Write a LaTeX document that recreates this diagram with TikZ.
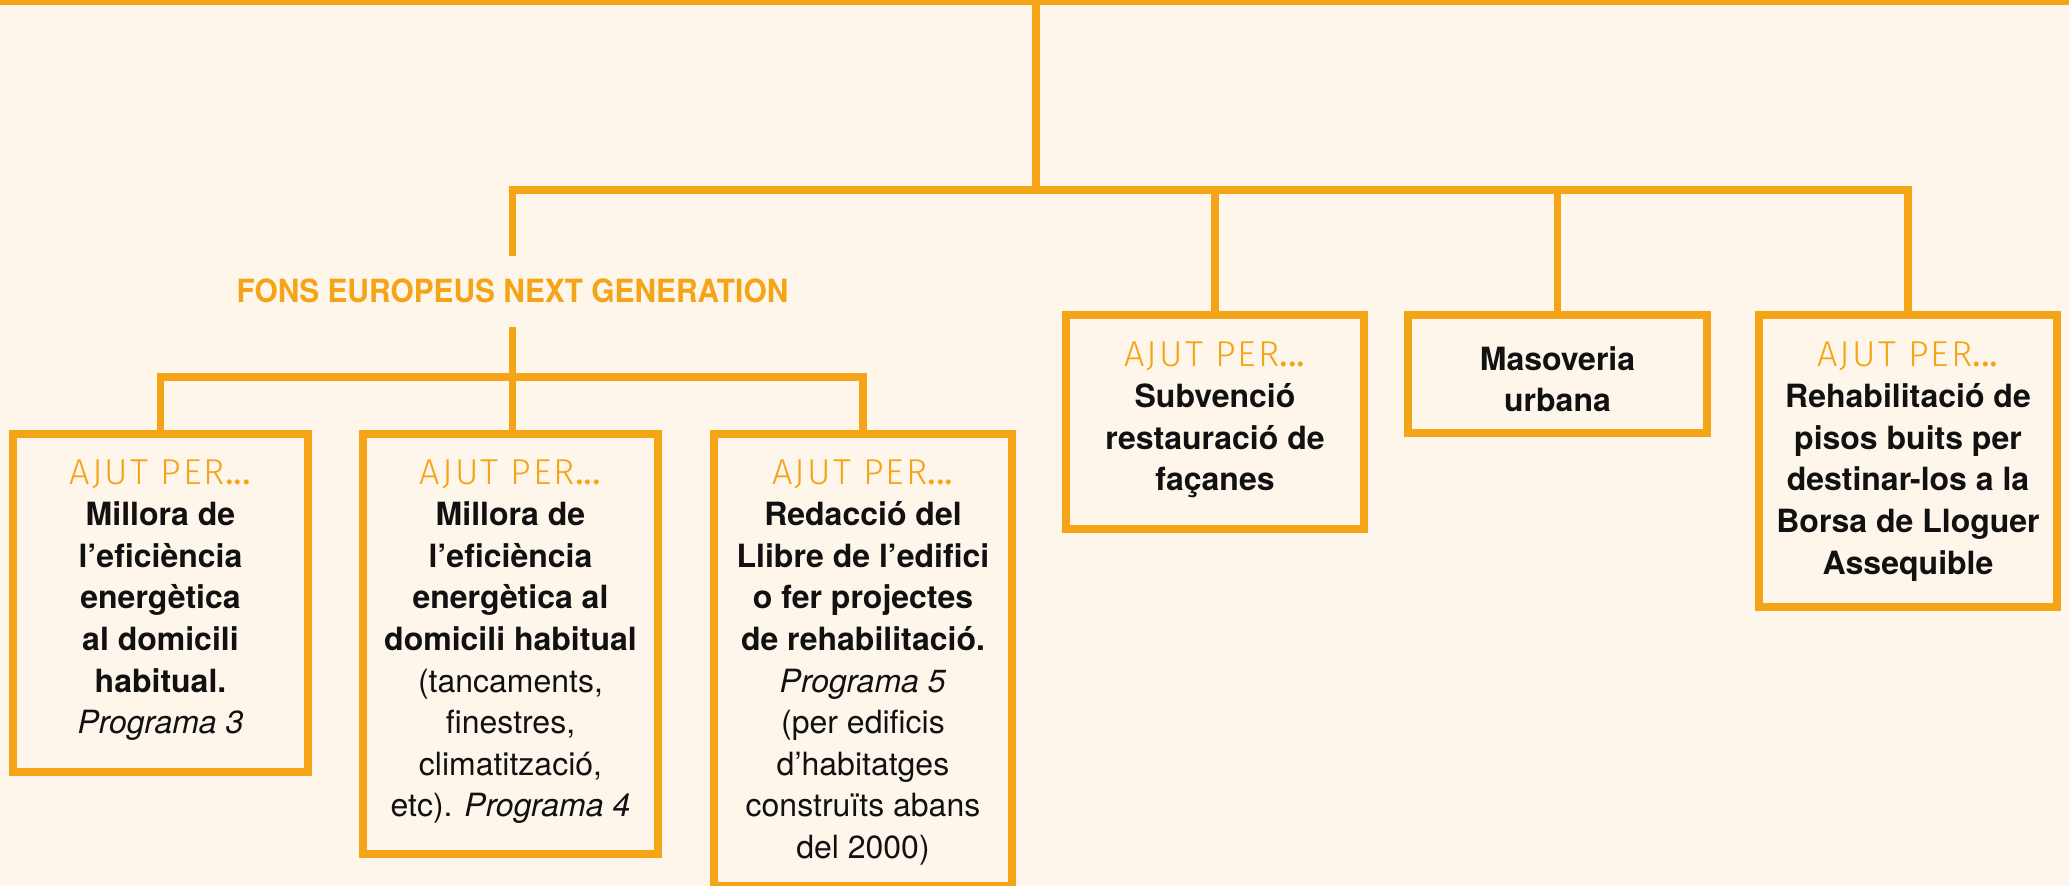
\documentclass[tikz,border=0pt]{standalone}
\usepackage{fontspec}
\usepackage{graphicx}
\setmainfont{TeX Gyre Heros}
\newfontfamily\ajutfont{Fira Sans Light}[LetterSpace=6]
\newfontfamily\dotfont{Fira Sans}
\definecolor{org}{RGB}{245,164,23}
\definecolor{bg}{RGB}{254,246,234}
\definecolor{ink}{RGB}{17,17,17}
\newcommand\ajutper{{\color{org}\ajutfont\fontsize{18}{20.8}\selectfont\rule{0pt}{10pt}AJUT PER{\dotfont...}}}
\begin{document}
\begin{tikzpicture}[x=0.5pt,y=-0.5pt,
  conn/.style={draw=org,line width=3.75pt},
  boxst/.style={draw=org,line width=4pt,inner sep=0pt,rectangle},
  txt/.style={anchor=north,inner sep=0pt,align=center,text=ink,font=\fontsize{16}{20.8}\selectfont},
  fonsst/.style={text=org,font=\bfseries\fontsize{16}{19}\selectfont,inner xsep=0pt,inner ysep=12pt,text height=11.5pt,text depth=0pt}
  ]
\useasboundingbox (0,0) rectangle (2069,886);
\clip (0,0) rectangle (2069,886);
\fill[bg] (0,0) rectangle (2069,886);
\fill[org] (0,0) rectangle (2069,5.5);

% boxes
\node[boxst,minimum width=147.5pt,minimum height=169pt] (box1) at (160.5,603) {};
\node[boxst,minimum width=147.5pt,minimum height=210pt] (box2) at (510.5,644) {};
\node[boxst,minimum width=149pt,minimum height=226pt] (box3) at (863,660) {};
\node[boxst,minimum width=149pt,minimum height=107pt] (box4) at (1215,422) {};
\node[boxst,minimum width=149.5pt,minimum height=59pt] (box5) at (1557.5,374) {};
\node[boxst,minimum width=149pt,minimum height=146pt] (box6) at (1908,461) {};

\node[fonsst] (fons) at (512.5,291.5) {\scalebox{0.934}[1]{FONS EUROPEUS NEXT GENERATION}};

% texts
\node[txt] (t1) at ([yshift=-14.5pt]box1.north) {\ajutper\\ \textbf{Millora de}\\ \textbf{l’eficiència}\\ \textbf{energètica}\\ \textbf{al domicili}\\ \textbf{habitual.}\\ \textit{Programa 3}};
\node[txt] (t2) at ([yshift=-14.5pt]box2.north) {\ajutper\\ \textbf{Millora de}\\ \textbf{l’eficiència}\\ \textbf{energètica al}\\ \textbf{domicili habitual}\\ (tancaments,\\ finestres,\\ climatització,\\ etc). \textit{Programa 4}};
\node[txt] (t3) at ([yshift=-14.5pt]box3.north) {\ajutper\\ \textbf{Redacció del}\\ \textbf{Llibre de l’edifici}\\ \textbf{o fer projectes}\\ \textbf{de rehabilitació.}\\ \textit{Programa 5}\\ (per edificis\\ d’habitatges\\ construïts abans\\ del 2000)};
\node[txt] (t4) at ([yshift=-15pt]box4.north) {\ajutper\\ \textbf{Subvenció}\\ \textbf{restauració de}\\ \textbf{façanes}};
\node[txt] (t5) at ([yshift=-17.5pt]box5.north) {\rule{0pt}{10pt}\textbf{Masoveria}\\ \textbf{urbana}};
\node[txt] (t6) at ([yshift=-15pt]box6.north) {\ajutper\\ \textbf{Rehabilitació de}\\ \textbf{pisos buits per}\\ \textbf{destinar-los a la}\\ \textbf{Borsa de Lloguer}\\ \textbf{Assequible}};

% connectors
\coordinate (topc) at (1036,0);
\coordinate (hub1) at (1036,190);
\coordinate (hub2) at (512.5,377);
\draw[conn] (topc) -- (hub1);
\draw[conn] (fons.north) |- (hub1) -| (box6.north);
\draw[conn] (box4.north) -- (box4.north |- hub1);
\draw[conn] (box5.north) -- (box5.north |- hub1);
\draw[conn] (fons.south) -- (fons.south |- box2.north);
\draw[conn] (box1.north) |- (hub2) -| (box3.north);
\end{tikzpicture}
\end{document}
